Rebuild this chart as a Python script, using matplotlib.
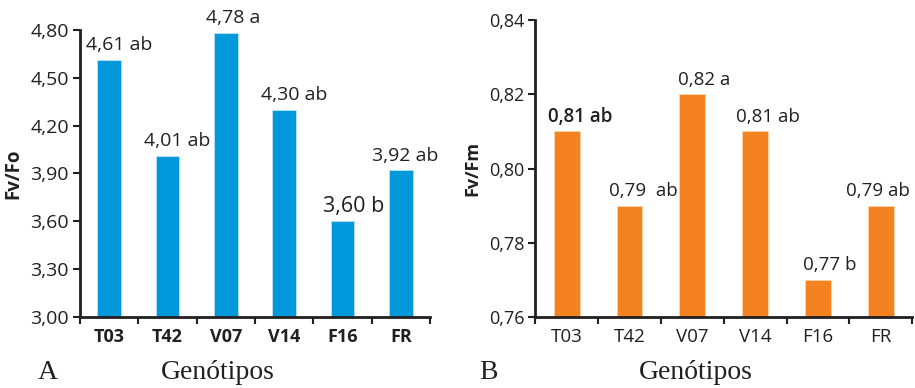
import matplotlib
matplotlib.use("Agg")
import matplotlib.pyplot as plt
import numpy as np

genotypes = ["T03", "T42", "V07", "V14", "F16", "FR"]
fvfo = [4.61, 4.01, 4.78, 4.30, 3.60, 3.92]
fvfo_labels = ["4,61 ab", "4,01 ab", "4,78 a", "4,30 ab", "3,60 b", "3,92 ab"]
fvfm = [0.81, 0.79, 0.82, 0.81, 0.77, 0.79]
fvfm_labels = ["0,81 ab", "0,79  ab", "0,82 a", "0,81 ab", "0,77 b", "0,79 ab"]
fvfo_ticks = [3.00, 3.30, 3.60, 3.90, 4.20, 4.50, 4.80]
fvfm_ticks = [0.76, 0.78, 0.80, 0.82, 0.84]

# label styling (positions / sizes only)
fvfo_dx = [0.17, 0.17, 0.12, 0.17, 0.19, 0.07]
fvfo_fs = [14, 14, 14, 14, 15.5, 14]
fvfo_fw = ["normal"] * 6
fvfm_dx = [0.21, 0.22, 0.18, 0.21, 0.18, -0.05]
fvfm_fs = [13.5] * 6
fvfm_fw = ["semibold", "normal", "normal", "normal", "normal", "normal"]

SANS = ["Open Sans", "DejaVu Sans"]
SERIF = ["Liberation Serif", "DejaVu Serif"]
DARK = "#231F20"

fig = plt.figure(figsize=(9.15, 3.88), dpi=100)


def panel(rect, vals, labels, ticks, color, edge, ylab, tick_fs, xt_fs, xt_bold,
          dxs, fss, fws, ylab_fs, letter, letter_x, gen_x):
    ax = fig.add_axes(rect)
    x = np.arange(len(vals))
    ax.bar(x, vals, width=0.41, color=color, edgecolor=edge, linewidth=0.6, zorder=2)
    ax.set_xlim(-0.5, len(vals) - 0.5)
    ax.set_ylim(ticks[0], ticks[-1])
    ax.set_yticks(ticks)
    ax.set_yticklabels([f"{t:.2f}".replace(".", ",") for t in ticks],
                       fontsize=tick_fs, family=SANS, color=DARK)
    ax.set_xticks(x)
    ax.set_xticklabels(genotypes, fontsize=xt_fs, family=SANS, color=DARK,
                       fontweight="bold" if xt_bold else "normal")
    ax.set_xticks(np.arange(len(vals) + 1) - 0.5, minor=True)
    ax.tick_params(axis="x", which="major", length=0, pad=8)
    ax.tick_params(axis="x", which="minor", length=5, width=1.5, color=DARK, direction="out")
    ax.tick_params(axis="y", length=5, width=1.5, color=DARK, pad=3)
    for s in ["top", "right"]:
        ax.spines[s].set_visible(False)
    for s in ["left", "bottom"]:
        ax.spines[s].set_linewidth(2)
        ax.spines[s].set_color(DARK)
    ax.set_ylabel(ylab, fontsize=ylab_fs, fontweight="bold", family=SANS, color=DARK, labelpad=5)
    for xi, v, lab, dx, fs, fw in zip(x, vals, labels, dxs, fss, fws):
        ax.annotate(lab, (xi + dx, v), xytext=(0, 7), textcoords="offset points",
                    ha="center", va="baseline", fontsize=fs, fontweight=fw,
                    family=SANS, color=DARK)
    fig.text(letter_x, 0.022, letter, fontsize=20, family=SERIF, color=DARK, ha="left", va="baseline")
    fig.text(gen_x, 0.022, "Genótipos", fontsize=20, family=SERIF, color=DARK, ha="center", va="baseline")
    return ax


panel([0.0874, 0.183, 0.3826, 0.74], fvfo, fvfo_labels, fvfo_ticks, "#0098DA", "#bfe3f5",
      "Fv/Fo", 14, 13, True, fvfo_dx, fvfo_fs, fvfo_fw, 13.5, "A", 0.041, 0.238)
panel([0.585, 0.183, 0.412, 0.765], fvfm, fvfm_labels, fvfm_ticks, "#F58220", "#fcd3ad",
      "Fv/Fm", 13, 13.5, False, fvfm_dx, fvfm_fs, fvfm_fw, 13, "B", 0.524, 0.76)

fig.savefig("out.png", dpi=100)
